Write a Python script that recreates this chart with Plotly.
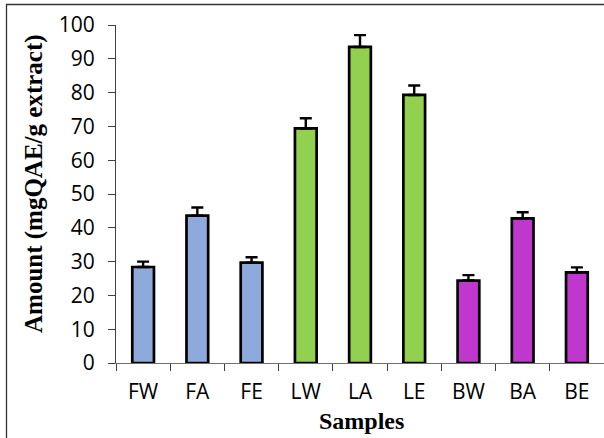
import plotly.graph_objects as go

samples = ["FW", "FA", "FE", "LW", "LA", "LE", "BW", "BA", "BE"]
amounts = [28.4, 43.6, 29.7, 69.4, 93.5, 79.3, 24.4, 42.8, 26.8]
errors = [1.6, 2.4, 1.6, 3.0, 3.5, 2.8, 1.6, 1.8, 1.5]
bar_colors = ["#8EAADC", "#8EAADC", "#8EAADC",
              "#92D050", "#92D050", "#92D050",
              "#BF37CC", "#BF37CC", "#BF37CC"]
y_ticks = list(range(0, 101, 10))

W, H = 604, 438
ML, MR, MT, MB = 116, 0, 25, 75
PW, PH = W - ML - MR, H - MT - MB

def px_x(px):
    return (px - ML) / PW

def px_y(py):
    return (H - MB - py) / PH

fig = go.Figure()
fig.add_trace(go.Bar(
    x=samples, y=amounts,
    marker=dict(color=bar_colors, line=dict(color="black", width=2.7)),
    error_y=dict(type="data", symmetric=False, array=errors,
                 arrayminus=[0] * len(errors),
                 color="black", thickness=2.4, width=6),
))

fig.update_layout(
    width=W, height=H,
    margin=dict(l=ML, r=MR, t=MT, b=MB),
    paper_bgcolor="white", plot_bgcolor="white",
    showlegend=False, bargap=0.6,
    font=dict(family="Open Sans", size=21, color="black"),
    xaxis=dict(showline=True, linecolor="#707070", linewidth=1.2,
               ticks="outside", ticklen=7, tickcolor="#404040", tickwidth=1,
               tickson="boundaries", showgrid=False,
               ticklabelstandoff=10,
               tickfont=dict(family="Open Sans", size=21, color="black")),
    yaxis=dict(range=[0, 100], tickvals=y_ticks, showline=True,
               linecolor="#404040", linewidth=1.2,
               ticks="outside", ticklen=7, tickcolor="#404040", tickwidth=1,
               showgrid=False, zeroline=False, ticklabelstandoff=9,
               tickfont=dict(family="Open Sans", size=21, color="black")),
    annotations=[
        dict(text="<b>Samples</b>", xref="paper", yref="paper",
             x=px_x(361), y=px_y(421), xanchor="center", yanchor="middle",
             showarrow=False,
             font=dict(family="Liberation Serif", size=24, color="black")),
        dict(text="<b>Amount (mgQAE/g extract)</b>", xref="paper", yref="paper",
             x=px_x(34), y=px_y(184), xanchor="center", yanchor="middle",
             textangle=-90, showarrow=False,
             font=dict(family="Liberation Serif", size=25, color="black")),
    ],
    shapes=[
        dict(type="rect", xref="paper", yref="paper",
             x0=px_x(6.5), x1=px_x(640), y0=px_y(470), y1=px_y(4.5),
             line=dict(color="#333333", width=1.3), fillcolor="rgba(0,0,0,0)",
             layer="below"),
    ],
)

fig.write_html("out.html",
               config={"displayModeBar": False},
               post_script="document.body.style.margin='0';document.body.style.overflow='hidden';")
